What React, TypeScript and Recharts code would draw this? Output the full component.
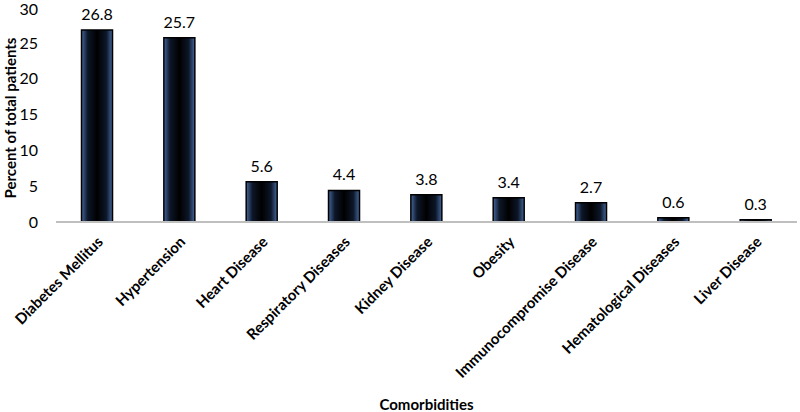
import React from "react"
import { BarChart, Bar, XAxis, YAxis, LabelList } from "recharts"

const categories = [
  "Diabetes Mellitus",
  "Hypertension",
  "Heart Disease",
  "Respiratory Diseases",
  "Kidney Disease",
  "Obesity",
  "Immunocompromise Disease",
  "Hematological Diseases",
  "Liver Disease",
]
const percents = [26.8, 25.7, 5.6, 4.4, 3.8, 3.4, 2.7, 0.6, 0.3]
const yTicks = [0, 5, 10, 15, 20, 25, 30]

const data = categories.map((name, i) => ({ name, value: percents[i] }))

const font = "Lato, 'Open Sans', sans-serif"

const XTick = (props: any) => {
  const { x, y, payload } = props
  return (
    <g transform={`translate(${x + 4},${y + 10})`}>
      <text
        transform="rotate(-45)"
        textAnchor="end"
        fontSize={15}
        fontWeight={700}
        fill="#000"
        fontFamily={font}
        dy={4}
      >
        {payload.value}
      </text>
    </g>
  )
}

export default function App() {
  return (
    <div style={{ position: "absolute", left: 0, top: 0, width: 800, height: 412, background: "#fff" }}>
      <svg width={1} height={1} style={{ position: "absolute", left: 0, top: 0 }}>
        <defs>
          <linearGradient id="barH" x1="0" y1="0" x2="1" y2="0">
            <stop offset="0%" stopColor="#45679c" />
            <stop offset="20%" stopColor="#0d1729" />
            <stop offset="50%" stopColor="#000" />
            <stop offset="80%" stopColor="#0d1729" />
            <stop offset="100%" stopColor="#45679c" />
          </linearGradient>
        </defs>
      </svg>
      <BarChart
        width={800}
        height={412}
        data={data}
        margin={{ top: 7, right: 3, left: 0, bottom: 0 }}
        barCategoryGap="31%"
      >
        <XAxis
          dataKey="name"
          interval={0}
          tick={<XTick />}
          tickLine={false}
          axisLine={{ stroke: "#bfbfbf", strokeWidth: 2 }}
          height={190}
          label={{
            value: "Comorbidities",
            position: "insideBottom",
            offset: 2,
            fontSize: 15,
            fontWeight: 700,
            fill: "#000",
            fontFamily: font,
          }}
        />
        <YAxis
          domain={[0, 30]}
          ticks={yTicks}
          tickLine={false}
          axisLine={false}
          width={56}
          tick={{ fontSize: 16, fill: "#000", fontFamily: font }}
          tickMargin={12}
          label={{
            value: "Percent of total patients",
            angle: -90,
            position: "insideLeft",
            offset: 11,
            dy: 84,
            fontSize: 15,
            fontWeight: 700,
            fill: "#000",
            fontFamily: font,
          }}
        />
        <Bar
          dataKey="value"
          fill="url(#barH)"
          stroke="#000"
          strokeWidth={1.5}
          isAnimationActive={false}
        >
          <LabelList
            dataKey="value"
            position="top"
            offset={10}
            fontSize={16}
            fill="#000"
            fontFamily={font}
            formatter={(v: any) => Number(v).toFixed(1)}
          />
        </Bar>
      </BarChart>
    </div>
  )
}
